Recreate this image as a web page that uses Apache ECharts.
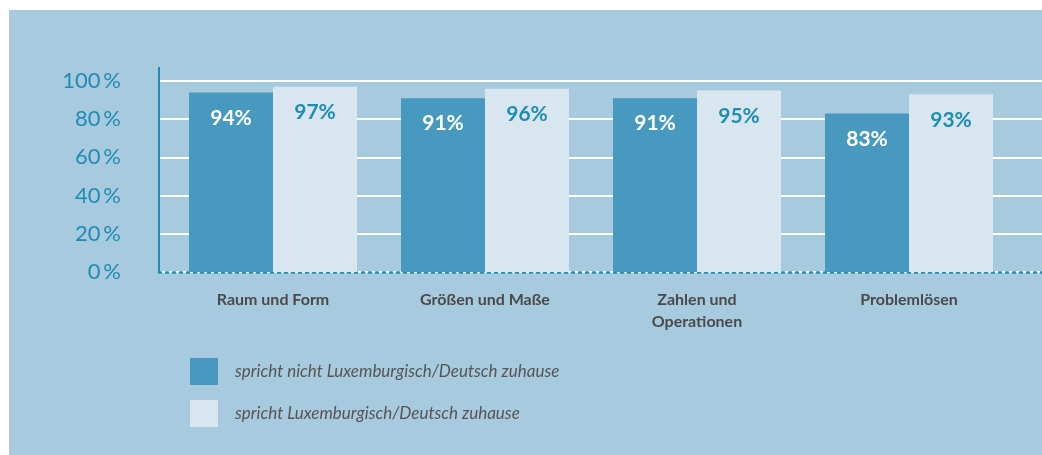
<!DOCTYPE html>
<html>
<head>
<meta charset="utf-8">
<script src="https://cdn.jsdelivr.net/npm/echarts@6/dist/echarts.min.js"></script>
<style>
  html, body { margin: 0; padding: 0; background: #ffffff; }
  #chart { width: 1042px; height: 455px; }
</style>
</head>
<body>
<div id="chart"></div>
<script>
// Daten
var categories = ['Raum und Form', 'Größen und Maße', 'Zahlen und\nOperationen', 'Problemlösen'];
var seriesNames = ['spricht nicht Luxemburgisch/Deutsch zuhause', 'spricht Luxemburgisch/Deutsch zuhause'];
var nichtLux = [94, 91, 91, 83];
var lux = [97, 96, 95, 93];

var teal = '#1f8db3';
var darkBar = '#4799bf';
var lightBar = '#d8e6ef';
var panel = '#a8cadf';

var chart = echarts.init(document.getElementById('chart'));
chart.setOption({
    animation: false,
    backgroundColor: '#ffffff',
    textStyle: { fontFamily: 'Lato' },
    graphic: [
        { type: 'rect', z: -10, shape: { x: 9, y: 10, width: 1033, height: 445 }, style: { fill: panel } },
        { type: 'line', z: 10, shape: { x1: 159, y1: 67, x2: 159, y2: 272 }, style: { stroke: teal, lineWidth: 2 } }
    ],
    legend: {
        orient: 'vertical',
        left: 185,
        top: 353,
        icon: 'rect',
        itemWidth: 28,
        itemHeight: 27,
        itemGap: 15,
        data: seriesNames,
        textStyle: { fontStyle: 'italic', fontSize: 17, color: '#555555', padding: [0, 0, 0, 12] }
    },
    grid: [
        { left: 167, right: 27, top: 81, bottom: 183 },
        { left: 159, right: 0, top: 81, bottom: 183 }
    ],
    xAxis: [
        {
            type: 'category',
            gridIndex: 0,
            data: categories,
            axisLine: { show: false },
            axisTick: { show: false },
            axisLabel: { margin: 17, fontSize: 16, fontWeight: 'bold', color: '#4a4a4a', lineHeight: 22 }
        },
        {
            type: 'value',
            gridIndex: 1,
            min: 0,
            max: 1,
            axisLine: { show: true, lineStyle: { color: teal, width: 2.5, type: [2, 5] } },
            axisTick: { show: false },
            axisLabel: { show: false },
            splitLine: { show: false }
        }
    ],
    yAxis: [
        {
            type: 'value',
            gridIndex: 0,
            min: 0,
            max: 100,
            interval: 20,
            show: false,
            splitLine: { show: false }
        },
        {
            type: 'value',
            gridIndex: 1,
            min: 0,
            max: 100,
            interval: 20,
            axisLine: { show: false },
            axisTick: { show: false },
            axisLabel: { margin: 38, fontSize: 22, color: teal, formatter: '{value}\u2009%' },
            splitLine: { show: true, lineStyle: { color: '#ffffff', width: 2 } }
        }
    ],
    series: [
        {
            name: seriesNames[0],
            type: 'bar',
            xAxisIndex: 0,
            yAxisIndex: 0,
            data: nichtLux,
            barWidth: 84,
            barGap: '0%',
            itemStyle: { color: darkBar },
            label: {
                show: true,
                position: 'insideTop',
                distance: 15,
                formatter: '{c}%',
                fontSize: 21,
                fontWeight: 'bold',
                color: '#ffffff'
            }
        },
        {
            name: seriesNames[1],
            type: 'bar',
            xAxisIndex: 0,
            yAxisIndex: 0,
            data: lux,
            barWidth: 84,
            barGap: '0%',
            itemStyle: { color: lightBar },
            label: {
                show: true,
                position: 'insideTop',
                distance: 15,
                formatter: '{c}%',
                fontSize: 21,
                fontWeight: 'bold',
                color: teal
            }
        }
    ]
});
</script>
</body>
</html>
